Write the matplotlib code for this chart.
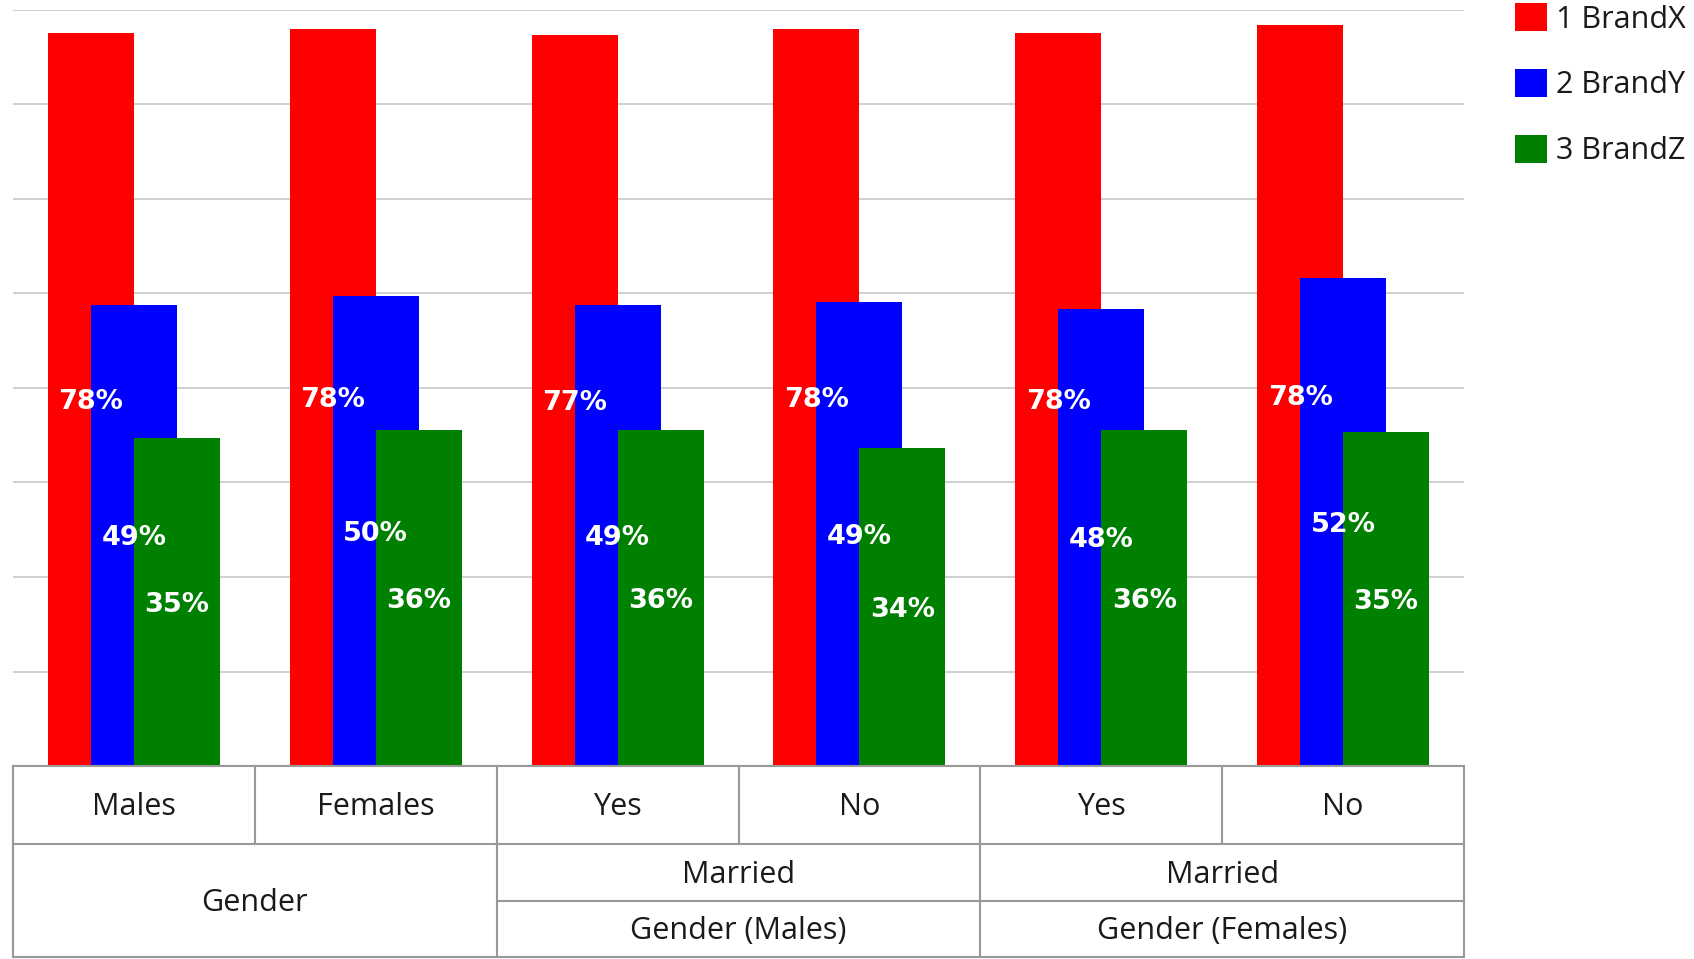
import matplotlib
matplotlib.use("Agg")
import matplotlib.pyplot as plt
from matplotlib.patches import Patch
import numpy as np

# ---- data ----
categories = ['Males', 'Females', 'Yes', 'No', 'Yes', 'No']
series_names = ['1 BrandX', '2 BrandY', '3 BrandZ']
brandx = [77.6, 78.0, 77.4, 78.0, 77.6, 78.4]
brandy = [48.8, 49.7, 48.8, 49.1, 48.4, 51.6]
brandz = [34.7, 35.6, 35.6, 33.6, 35.6, 35.3]
colors = ['#ff0000', '#0000ff', '#008000']
level2 = [('Gender', 0, 2, True), ('Married', 2, 4, False), ('Married', 4, 6, False)]
level3 = [('Gender (Males)', 2, 4), ('Gender (Females)', 4, 6)]

plt.rcParams['font.family'] = ['Open Sans', 'DejaVu Sans']

W, H = 1694, 959
fig = plt.figure(figsize=(W / 100, H / 100), dpi=100)

x0, x1 = 13, 1464
ytop, ybase = 10, 766
ax = fig.add_axes([x0 / W, 1 - ybase / H, (x1 - x0) / W, (ybase - ytop) / H])
ax.set_xlim(-0.5, len(categories) - 0.5)
ax.set_ylim(0, 80)
for s in ax.spines.values():
    s.set_visible(False)
ax.set_xticks([])
ax.set_yticks(np.arange(0, 81, 10))
ax.tick_params(left=False, labelleft=False)
ax.yaxis.grid(True, color='#c8c8c8', linewidth=1.2)
ax.set_axisbelow(True)

x = np.arange(len(categories))
bw = 86 / ((x1 - x0) / len(categories))
offs = [-bw / 2, 0, bw / 2]
for vals, off, col, name in zip([brandx, brandy, brandz], offs, colors, series_names):
    bars = ax.bar(x + off, vals, width=bw, color=col, zorder=3, label=name)
    for b, v in zip(bars, vals):
        ax.text(b.get_x() + b.get_width() / 2, v / 2 - 0.3, f"{round(v)}%",
                ha='center', va='center', color='white', fontsize=19.5,
                fontweight='bold', family=['DejaVu Sans'], zorder=5)

# legend
handles = [Patch(facecolor=c, edgecolor='none') for c in colors]
fig.legend(handles, series_names, loc='upper left',
           bbox_to_anchor=(1515 / W, 1 - 3 / H), frameon=False,
           fontsize=22, handlelength=1.05, handleheight=1.05,
           handletextpad=0.3, labelspacing=1.12, borderpad=0, borderaxespad=0,
           labelcolor='#1a1a1a')

# table under the chart
tb_top, tb_bot = 766, 957
tax = fig.add_axes([x0 / W, 1 - tb_bot / H, (x1 - x0) / W, (tb_bot - tb_top) / H])
tax.set_xlim(-0.5, len(categories) - 0.5)
rows = [0, 77.5, 135, 191]
tax.set_ylim(rows[-1], 0)
tax.axis('off')
lc = '#999999'
lw = 1.5
kw = dict(color=lc, linewidth=lw, clip_on=False, solid_capstyle='projecting')
tk = dict(ha='center', va='center', fontsize=22, color='#1a1a1a')
dy = 2.5
L, R = -0.5, len(categories) - 0.5
# outer border
tax.plot([L, R], [rows[0], rows[0]], **kw)
tax.plot([L, R], [rows[3], rows[3]], **kw)
tax.plot([L, L], [rows[0], rows[3]], **kw)
tax.plot([R, R], [rows[0], rows[3]], **kw)
tax.plot([L, R], [rows[1], rows[1]], **kw)
# row 1 cells
for i, c in enumerate(categories):
    if i > 0:
        tax.plot([i - 0.5, i - 0.5], [rows[0], rows[1]], **kw)
    tax.text(i, (rows[0] + rows[1]) / 2 + dy, c, **tk)
# level 2/3
for name, a, b, merged in level2:
    tax.plot([a - 0.5, a - 0.5], [rows[1], rows[3]], **kw)
    cx = (a + b - 1) / 2
    if merged:
        tax.text(cx, (rows[1] + rows[3]) / 2 + dy, name, **tk)
    else:
        tax.plot([a - 0.5, b - 0.5], [rows[2], rows[2]], **kw)
        tax.text(cx, (rows[1] + rows[2]) / 2 + dy, name, **tk)
for name, a, b in level3:
    cx = (a + b - 1) / 2
    tax.text(cx, (rows[2] + rows[3]) / 2 + dy, name, **tk)

fig.savefig('out.png', dpi=100, facecolor='white')
